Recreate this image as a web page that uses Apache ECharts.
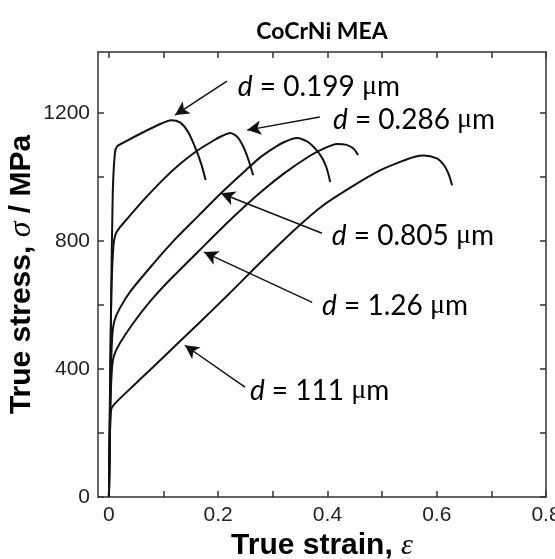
<!DOCTYPE html>
<html>
<head>
<meta charset="utf-8">
<script src="https://cdn.jsdelivr.net/npm/echarts@6/dist/echarts.min.js"></script>
<style>
  html, body { margin: 0; padding: 0; background: #fff; }
  #chart { width: 555px; height: 559px; }
</style>
</head>
<body>
<div id="chart"></div>
<script>
// stress-strain curves, [true strain, true stress (MPa)]
const curve0199 = [[0, 0], [0.004, 600], [0.007, 950], [0.011, 1075], [0.015, 1095], [0.03, 1110], [0.06, 1137],
  [0.09, 1162], [0.114, 1177], [0.13, 1170], [0.145, 1140], [0.16, 1083], [0.17, 1035], [0.177, 990]]
const curve0286 = [[0, 0], [0.004, 600], [0.008, 780], [0.012, 820], [0.02, 842], [0.035, 872], [0.062, 925],
  [0.1, 993], [0.13, 1040], [0.16, 1080], [0.19, 1112], [0.205, 1126], [0.222, 1137], [0.235, 1125],
  [0.246, 1094], [0.255, 1055], [0.264, 1005]]
const curve0805 = [[0, 0], [0.003, 350], [0.006, 500], [0.01, 550], [0.02, 590], [0.041, 646], [0.081, 728],
  [0.12, 803], [0.166, 882], [0.205, 949], [0.25, 1020], [0.2765, 1060], [0.3, 1088], [0.32, 1108],
  [0.344, 1121], [0.365, 1108], [0.387, 1068], [0.398, 1030], [0.405, 984]]
const curve126 = [[0, 0], [0.003, 300], [0.006, 410], [0.01, 445], [0.02, 480], [0.044, 542], [0.075, 610],
  [0.105, 667], [0.166, 771], [0.22, 862], [0.2765, 950], [0.32, 1010], [0.368, 1066], [0.395, 1090],
  [0.417, 1103], [0.435, 1100], [0.448, 1088], [0.456, 1068]]
const curve111 = [[0, 0], [0.002, 200], [0.004, 272], [0.01, 290], [0.04, 340], [0.081, 406], [0.12, 470],
  [0.166, 545], [0.22, 635], [0.28, 737], [0.34, 835], [0.393, 912], [0.45, 975], [0.497, 1021],
  [0.533, 1047], [0.56, 1063], [0.576, 1067], [0.6, 1058], [0.613, 1037], [0.622, 1008], [0.628, 974]]

const curves = [curve0199, curve0286, curve0805, curve126, curve111]
const sizeLabels = ['0.199', '0.286', '0.805', '1.26', '111']
// arrow start, arrow tip, text anchor (data coords)
const arrowFrom = [[0.216, 1299], [0.386, 1187], [0.39, 824], [0.372, 608], [0.249, 343]]
const arrowTo = [[0.121, 1193], [0.253, 1146], [0.205, 949], [0.174, 765], [0.139, 474]]
const textAt = [[0.236, 1282], [0.41, 1178], [0.408, 815], [0.39, 597], [0.258, 332]]

const xLabels = [0, 0.2, 0.4, 0.6, 0.8]
const xTicks = [0, 0.1, 0.2, 0.3, 0.4, 0.5, 0.6, 0.7, 0.8]
const yLabels = [0, 400, 800, 1200]
const yTicks = [0, 200, 400, 600, 800, 1000, 1200]

const axisColor = '#333'
const lbl = { color: '#222', fontFamily: 'Liberation Sans, Arial', fontSize: 21 }

const chart = echarts.init(document.getElementById('chart'))

const baseX = {
  type: 'value', min: -0.02, max: 0.8,
  axisLine: { onZero: false, lineStyle: { color: axisColor, width: 1.5 } },
  axisTick: { inside: true, length: 6, customValues: xTicks, lineStyle: { color: axisColor, width: 1.5 } },
  splitLine: { show: false }
}
const baseY = {
  type: 'value', min: 0, max: 1390,
  axisLine: { onZero: false, lineStyle: { color: axisColor, width: 1.5 } },
  axisTick: { inside: true, length: 6, customValues: yTicks, lineStyle: { color: axisColor, width: 1.5 } },
  splitLine: { show: false }
}

chart.setOption({
  animation: false,
  title: {
    text: 'CoCrNi MEA', left: 317, top: 15, textAlign: 'center',
    textStyle: { fontFamily: 'Lato, Open Sans', fontWeight: 'bold', fontSize: 23, color: '#000' }
  },
  grid: { left: 98, right: 9, top: 52, bottom: 62, outerBoundsMode: 'none', containLabel: false },
  xAxis: [
    Object.assign({}, baseX, {
      position: 'bottom',
      name: '{b|True strain, }{e|ε}', nameLocation: 'middle', nameGap: 34,
      nameTextStyle: {
        rich: {
          b: { fontFamily: 'Liberation Sans, Arial', fontWeight: 'bold', fontSize: 30, color: '#000' },
          e: { fontFamily: 'Liberation Serif, Times New Roman', fontStyle: 'italic', fontSize: 30, color: '#000' }
        }
      },
      axisLabel: Object.assign({ customValues: xLabels, margin: 8, formatter: v => String(+v.toFixed(1)) }, lbl)
    }),
    Object.assign({}, baseX, { position: 'top', axisLabel: { show: false } })
  ],
  yAxis: [
    Object.assign({}, baseY, {
      position: 'left',
      name: '{b|True stress, }{s|σ}{b| / MPa}', nameLocation: 'middle', nameGap: 60,
      nameMoveOverlap: false,
      nameTextStyle: {
        rich: {
          b: { fontFamily: 'Liberation Sans, Arial', fontWeight: 'bold', fontSize: 30, color: '#000' },
          s: { fontFamily: 'Liberation Serif, Times New Roman', fontStyle: 'italic', fontSize: 32, color: '#000' }
        }
      },
      axisLabel: Object.assign({ customValues: yLabels, margin: 8, formatter: v => String(Math.round(v)) }, lbl)
    }),
    Object.assign({}, baseY, { position: 'right', axisLabel: { show: false } })
  ],
  series: curves.map((c, i) => ({
    type: 'line',
    data: c,
    showSymbol: false,
    smooth: 0.25,
    lineStyle: { color: '#111', width: 2 },
    markLine: {
      silent: true,
      symbol: ['none', 'arrow'],
      symbolSize: [11, 14],
      label: { show: false },
      lineStyle: { color: '#111', width: 1.5, type: 'solid' },
      data: [[{ coord: arrowFrom[i] }, { coord: arrowTo[i] }]]
    }
  }))
})

// curve labels, placed from data coordinates
chart.setOption({
  graphic: textAt.map((p, i) => {
    const px = chart.convertToPixel({ xAxisIndex: 0, yAxisIndex: 0 }, p)
    return {
      type: 'text', x: px[0], y: px[1],
      style: {
        text: '{d|d} = ' + sizeLabels[i] + ' {m|μ}m',
        verticalAlign: 'middle',
        font: '28px Lato, Open Sans',
        fill: '#000',
        rich: {
          d: { fontStyle: 'italic', fontSize: 28, fontFamily: 'Lato, Open Sans' },
          m: { fontSize: 28, fontFamily: 'Liberation Serif, Times New Roman' }
        }
      }
    }
  })
})
</script>
</body>
</html>
